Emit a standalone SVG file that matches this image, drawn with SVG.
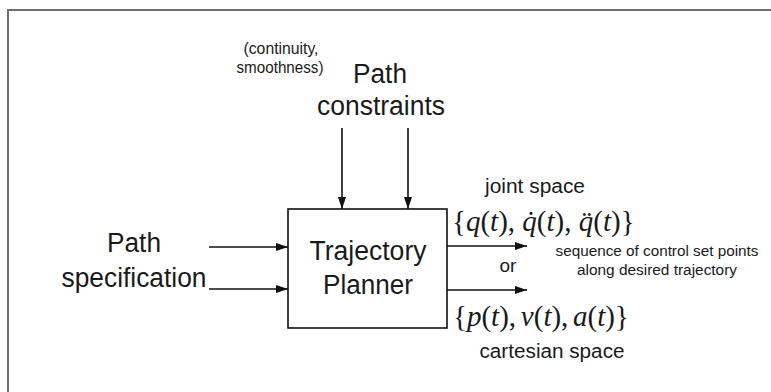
<svg xmlns="http://www.w3.org/2000/svg" width="771" height="392" viewBox="0 0 771 392">
  <style>
    .lbl { font-family: "Liberation Sans", Arial, sans-serif; fill: #1a1a1a; text-anchor: middle; }
    .big { font-size: 27px; }
    .mid { font-size: 20px; }
    .small { font-size: 16.5px; }
    .note { font-size: 15.5px; }
    .math { font-family: "Liberation Serif", "Times New Roman", serif; font-size: 29px; fill: #1a1a1a; }
    .it { font-style: italic; }
    .wire { stroke: #111; stroke-width: 1.6; fill: none; }
  </style>
  <defs>
    <marker id="head" viewBox="0 0 12 8" refX="12" refY="4" markerWidth="12" markerHeight="8" markerUnits="userSpaceOnUse" orient="auto">
      <path d="M0,0 L12,4 L0,8 Z" fill="#111"/>
    </marker>
  </defs>

  <rect width="771" height="392" fill="#fff"/>
  <!-- outer frame: top and left edges -->
  <path d="M8,392 V10 H771" stroke="#6e6e6e" stroke-width="2" fill="none"/>

  <g id="planner">
    <rect x="288" y="209" width="159" height="119" fill="#fff" stroke="#111" stroke-width="1.6"/>
    <text class="lbl big" x="368" y="260" textLength="117" lengthAdjust="spacingAndGlyphs">Trajectory</text>
    <text class="lbl big" x="368" y="294" textLength="90" lengthAdjust="spacingAndGlyphs">Planner</text>
  </g>

  <g id="path-spec">
    <text class="lbl big" x="134" y="252" textLength="54" lengthAdjust="spacingAndGlyphs">Path</text>
    <text class="lbl big" x="134" y="287" textLength="145" lengthAdjust="spacingAndGlyphs">specification</text>
  </g>

  <g id="path-constraints">
    <text class="lbl small" x="281" y="54" textLength="75" lengthAdjust="spacingAndGlyphs">(continuity,</text>
    <text class="lbl small" x="280" y="73" textLength="87" lengthAdjust="spacingAndGlyphs">smoothness)</text>
    <text class="lbl big" x="380" y="83" textLength="54" lengthAdjust="spacingAndGlyphs">Path</text>
    <text class="lbl big" x="381" y="115" textLength="128" lengthAdjust="spacingAndGlyphs">constraints</text>
  </g>

  <g id="joint-output">
    <text class="lbl mid" x="535" y="193" textLength="100" lengthAdjust="spacingAndGlyphs">joint space</text>
    <text class="math" x="452" y="231">{<tspan class="it">q</tspan>(<tspan class="it">t</tspan>), <tspan class="it">q̇</tspan>(<tspan class="it">t</tspan>), <tspan class="it">q̈</tspan>(<tspan class="it">t</tspan>)}</text>
  </g>

  <g id="cartesian-output">
    <text class="math" x="453" y="326" word-spacing="-2.5">{<tspan class="it">p</tspan>(<tspan class="it">t</tspan>), <tspan class="it">v</tspan>(<tspan class="it">t</tspan>), <tspan class="it">a</tspan>(<tspan class="it">t</tspan>)}</text>
    <text class="lbl mid" x="552" y="358" textLength="145" lengthAdjust="spacingAndGlyphs">cartesian space</text>
  </g>

  <g id="or-label">
    <text class="lbl" font-size="19" x="508" y="272">or</text>
  </g>

  <g id="setpoints">
    <text class="lbl note" x="657" y="256" textLength="203" lengthAdjust="spacingAndGlyphs">sequence of control set points</text>
    <text class="lbl note" x="657" y="275" textLength="160" lengthAdjust="spacingAndGlyphs">along desired trajectory</text>
  </g>

  <g id="connectors" class="wire" marker-end="url(#head)">
    <line x1="342" y1="128" x2="342" y2="209"/>
    <line x1="408" y1="128" x2="408" y2="209"/>
    <line x1="209" y1="247" x2="288" y2="247"/>
    <line x1="209" y1="289" x2="288" y2="289"/>
    <line x1="447" y1="246" x2="527" y2="246"/>
    <line x1="447" y1="290" x2="527" y2="290"/>
  </g>
</svg>
